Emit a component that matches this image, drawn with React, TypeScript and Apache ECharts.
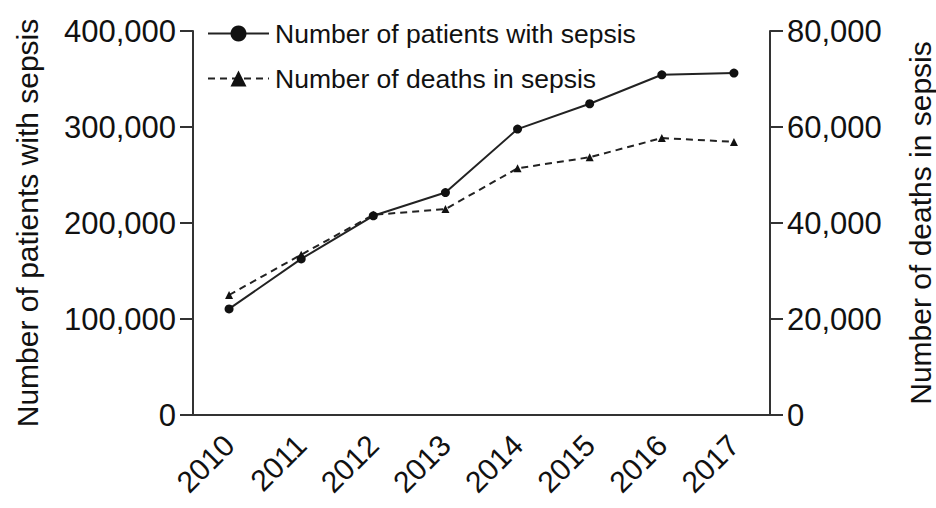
import React, { useEffect, useRef } from "react";
import * as echarts from "echarts";

const years = ["2010", "2011", "2012", "2013", "2014", "2015", "2016", "2017"];
const patients = [110500, 162600, 207500, 231700, 297800, 324200, 354400, 356200];
const deaths = [25000, 33400, 41700, 42900, 51400, 53700, 57700, 56900];
const patientsName = "Number of patients with sepsis";
const deathsName = "Number of deaths in sepsis";

const FONT = "Liberation Sans, Arial, Helvetica, sans-serif";
const AXIS_COLOR = "#333";
const TEXT_COLOR = "#111";

const fmt = (v: number) => v.toLocaleString("en-US");

export default function App() {
  const ref = useRef<HTMLDivElement>(null);
  useEffect(() => {
    document.body.style.margin = "0";
    if (!ref.current) return;
    const chart = echarts.init(ref.current, undefined, { renderer: "svg" });
    const axisCommon = {
      type: "value" as const,
      nameLocation: "middle" as const,
      nameRotate: 90,
      nameTextStyle: { fontSize: 30, color: TEXT_COLOR, fontFamily: FONT },
      splitLine: { show: false },
      axisLine: { show: true, lineStyle: { color: AXIS_COLOR, width: 2 } },
      axisTick: { show: true, inside: false, length: 13, lineStyle: { color: AXIS_COLOR, width: 2 } },
      axisLabel: { fontSize: 31, color: TEXT_COLOR, fontFamily: FONT, margin: 17, formatter: fmt },
    };
    chart.setOption({
      animation: false,
      backgroundColor: "#fff",
      textStyle: { fontFamily: FONT },
      grid: { left: 193, right: 166, top: 31, bottom: 93, containLabel: false, outerBoundsMode: "none" },
      legend: {
        orient: "vertical",
        left: 202,
        top: 15,
        itemWidth: 61,
        itemHeight: 20,
        itemGap: 18,
        textStyle: { fontSize: 26.5, color: TEXT_COLOR, fontFamily: FONT, padding: [0, 0, 0, 1] },
        data: [patientsName, deathsName],
      },
      xAxis: {
        type: "category",
        data: years,
        boundaryGap: true,
        axisLine: { lineStyle: { color: AXIS_COLOR, width: 2 } },
        axisTick: { alignWithLabel: true, inside: false, length: 15, lineStyle: { color: AXIS_COLOR, width: 2 } },
        axisLabel: { fontSize: 30, color: TEXT_COLOR, fontFamily: FONT, rotate: 45, margin: 25, interval: 0 },
      },
      yAxis: [
        {
          ...axisCommon,
          name: patientsName,
          nameGap: 151,
          min: 0,
          max: 400000,
          interval: 100000,
          position: "left",
        },
        {
          ...axisCommon,
          name: deathsName,
          nameGap: 135,
          min: 0,
          max: 80000,
          interval: 20000,
          position: "right",
        },
      ],
      series: [
        {
          name: patientsName,
          type: "line",
          yAxisIndex: 0,
          data: patients,
          symbol: "circle",
          symbolSize: 9,
          itemStyle: { color: "#111" },
          lineStyle: { color: "#222", width: 2 },
        },
        {
          name: deathsName,
          type: "line",
          yAxisIndex: 1,
          data: deaths,
          symbol: "triangle",
          symbolSize: 8,
          itemStyle: { color: "#111" },
          lineStyle: { color: "#222", width: 2, type: [7, 5] },
        },
      ],
    });
    return () => chart.dispose();
  }, []);
  return <div ref={ref} style={{ width: 936, height: 508 }} />;
}
